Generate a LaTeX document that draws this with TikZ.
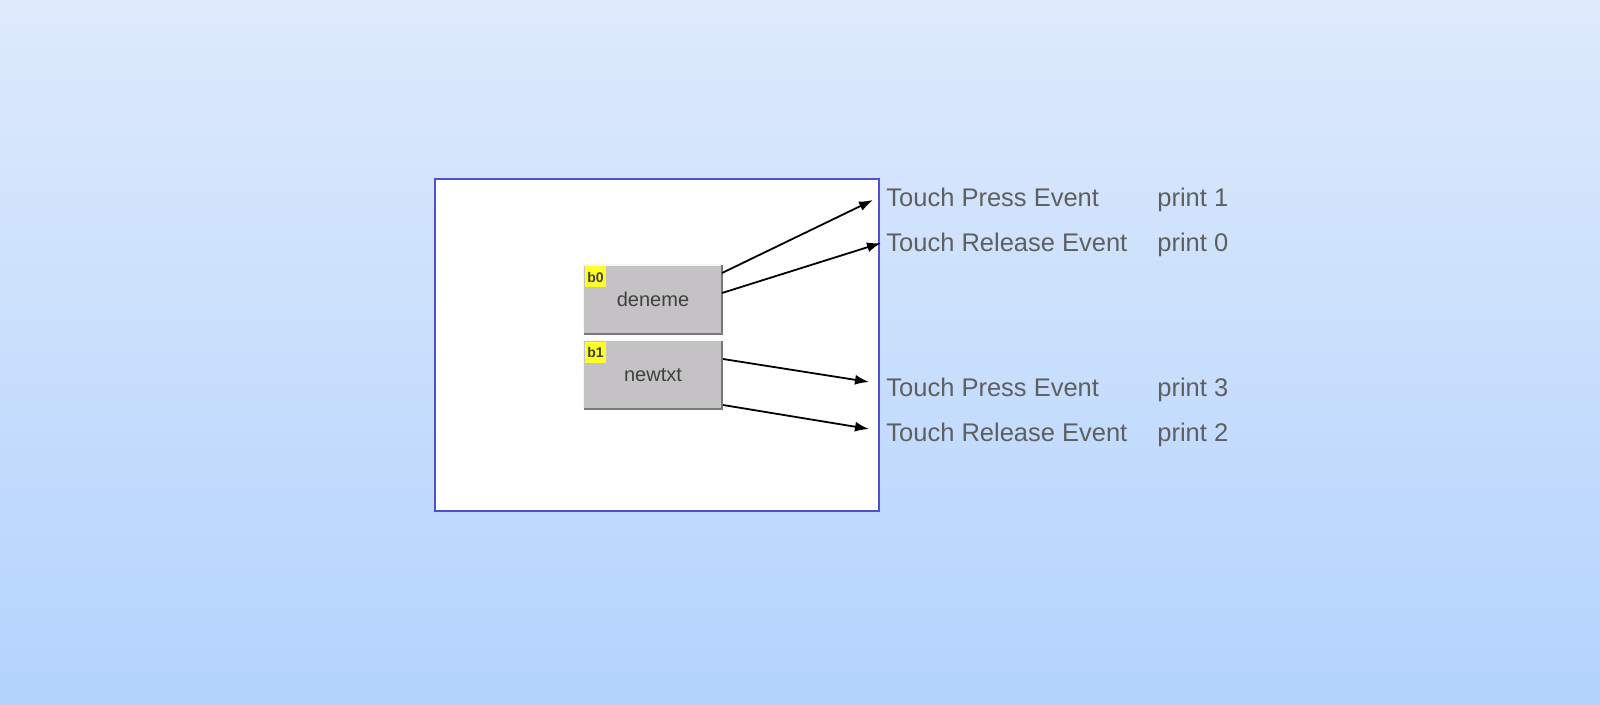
\documentclass[tikz,border=0pt]{standalone}
\usepackage{fontspec}
\setmainfont{Liberation Sans}
\usetikzlibrary{arrows.meta}
\definecolor{bgtop}{RGB}{222,234,252}
\definecolor{bgbot}{RGB}{179,211,253}
\definecolor{framec}{RGB}{80,80,200}
\definecolor{btnfill}{RGB}{196,194,196}
\definecolor{btndark}{RGB}{120,120,120}
\definecolor{txtgray}{RGB}{95,95,95}
\definecolor{lblyellow}{RGB}{255,255,40}
\tikzset{
  btn/.style={fill=btnfill, minimum width=69pt, minimum height=34pt, inner sep=0pt, draw=none, font=\fontsize{10}{12}\selectfont, text=black!75},
  lbl/.style={fill=lblyellow, inner sep=0.8pt, minimum width=10.5pt, minimum height=10.5pt, font=\fontsize{7}{8}\selectfont\bfseries, text=black!75},
  evt/.style={anchor=base west, inner sep=0pt, font=\fontsize{12.75}{14}\selectfont, text=txtgray},
  conn/.style={-{Latex[length=7pt,width=5pt]}, line width=0.9pt, black}
}
\begin{document}
\begin{tikzpicture}[x=0.5pt,y=-0.5pt]
\shade[top color=bgtop, bottom color=bgbot] (0,0) rectangle (1600,705);
\useasboundingbox (0,0) rectangle (1600,705);
% frame
\node[draw=framec, line width=1pt, fill=white, minimum width=222pt, minimum height=166pt, inner sep=0pt] (frame) at (657,345) {};
% buttons
\node[btn] (b0) at (653,299.5) {deneme};
\node[btn] (b1) at (653,375) {newtxt};
\foreach \b in {b0,b1}{
  \draw[white!85!btnfill, line width=0.8pt] (\b.south west) -- (\b.north west) -- (\b.north east);
  \draw[btndark, line width=1pt] (\b.south west) -- (\b.south east) -- (\b.north east);
}
\node[lbl, anchor=north west] (l0) at ([xshift=0.5pt,yshift=-0.5pt]b0.north west) {b0};
\node[lbl, anchor=north west] (l1) at ([xshift=0.5pt,yshift=-0.5pt]b1.north west) {b1};
% event texts
\node[evt] (e1) at (886,207) {Touch Press Event};
\node[evt] (e2) at (886,252) {Touch Release Event};
\node[evt] (e3) at (886,396) {Touch Press Event};
\node[evt] (e4) at (886,441) {Touch Release Event};
\node[evt] (p1) at (1157,207) {print 1};
\node[evt] (p0) at (1157,252) {print 0};
\node[evt] (p3) at (1157,396) {print 3};
\node[evt] (p2) at (1157,441) {print 2};
% arrow endpoints
\coordinate (s1) at (722,273);
\coordinate (s2) at (722,293);
\coordinate (s3) at (723,359);
\coordinate (s4) at (723,405);
\coordinate (t1) at (873,200);
\coordinate (t2) at (881,243);
\coordinate (t3) at (869,382);
\coordinate (t4) at (869,429);
\draw[conn] (s1) -- (t1);
\draw[conn] (s2) -- (t2);
\draw[conn] (s3) -- (t3);
\draw[conn] (s4) -- (t4);
\end{tikzpicture}
\end{document}
